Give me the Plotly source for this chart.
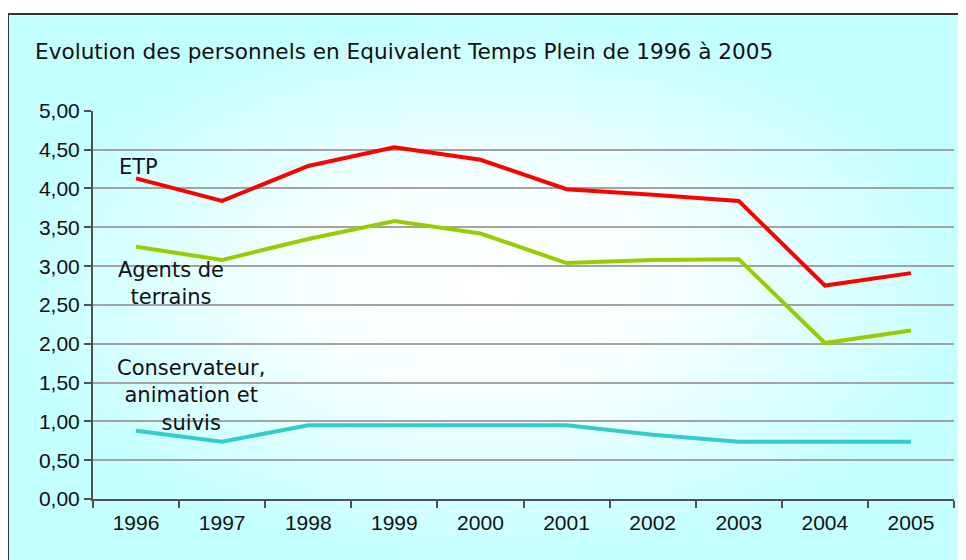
import plotly.graph_objects as go

years = ["1996", "1997", "1998", "1999", "2000", "2001", "2002", "2003", "2004", "2005"]
etp = [4.13, 3.84, 4.29, 4.53, 4.37, 3.99, 3.92, 3.84, 2.75, 2.91]
agents = [3.25, 3.08, 3.35, 3.58, 3.42, 3.04, 3.08, 3.09, 2.01, 2.17]
conservateur = [0.88, 0.74, 0.95, 0.95, 0.95, 0.95, 0.83, 0.74, 0.74, 0.74]
y_ticks = [0, 0.5, 1, 1.5, 2, 2.5, 3, 3.5, 4, 4.5, 5]
y_tick_labels = [f"{v:.2f}".replace(".", ",") for v in y_ticks]

W, H = 966, 560
NUM_FONT = "Liberation Sans, Arial, sans-serif"
TXT_FONT = "DejaVu Sans, Verdana, sans-serif"
EDGE = "#c4ffff"


# map screen pixels (as seen in the photographed page) to paper fractions
def px(x):
    return (x - 8) / W


def py(y):
    return (556 - y) / 538


fig = go.Figure()

# gradient background on a full-page hidden subplot
bx0 = px(8)
fig.add_trace(go.Scatter(
    x=[bx0, 1, 1, bx0, bx0], y=[0, 0, 1, 1, 0],
    xaxis="x", yaxis="y", mode="lines", line=dict(width=0),
    fill="toself",
    fillgradient=dict(type="radial",
                      colorscale=[[0, "#ffffff"], [0.4, "#f7ffff"], [1, EDGE]]),
    hoverinfo="skip", showlegend=False,
))

series = [
    ("ETP", etp, "#ff0000"),
    ("Agents de terrains", agents, "#99cc00"),
    ("Conservateur, animation et suivis", conservateur, "#33cccc"),
]
for name, vals, col in series:
    fig.add_trace(go.Scatter(
        x=years, y=vals, name=name, mode="lines",
        line=dict(color=col, width=4),
        xaxis="x2", yaxis="y2", showlegend=False,
    ))

fig.update_layout(
    width=W, height=H,
    margin=dict(l=0, r=0, t=0, b=0),
    paper_bgcolor="white",
    plot_bgcolor="rgba(0,0,0,0)",
    showlegend=False,
    font=dict(family=NUM_FONT, color="#111111", size=21),
    xaxis=dict(domain=[0, 1], range=[0, 1], visible=False, fixedrange=True),
    yaxis=dict(domain=[0, 1], range=[0, 1], visible=False, fixedrange=True),
    xaxis2=dict(
        domain=[px(93), px(954)], anchor="y2", type="category",
        categoryorder="array", categoryarray=years,
        range=[-0.5, 9.5],
        showline=True, linecolor="#505050", linewidth=2,
        ticks="outside", tickson="boundaries", ticklen=7, tickwidth=1.5, tickcolor="#505050",
        ticklabelstandoff=4,
        showgrid=False, zeroline=False,
        tickfont=dict(size=21, family=NUM_FONT, color="#111111"),
    ),
    yaxis2=dict(
        domain=[py(498), py(109)], anchor="x2",
        range=[0, 5],
        tickvals=y_ticks, ticktext=y_tick_labels,
        showline=True, linecolor="#505050", linewidth=2,
        ticks="outside", ticklen=7, tickwidth=1.5, tickcolor="#505050",
        showgrid=True, gridcolor="#a3a3a3", gridwidth=1.5,
        zeroline=False,
        tickfont=dict(size=21, family=NUM_FONT, color="#111111"),
    ),
    shapes=[
        # thin strips filling the bits of the frame outside the paper area
        dict(type="rect", xref="paper", yref="paper", x0=bx0, x1=1.02, y0=1.0, y1=py(12),
             line=dict(width=0), fillcolor=EDGE, layer="below"),
        dict(type="rect", xref="paper", yref="paper", x0=bx0, x1=1.02, y0=-0.05, y1=0.0,
             line=dict(width=0), fillcolor=EDGE, layer="below"),
        dict(type="rect", xref="paper", yref="paper",
             x0=bx0, x1=1.03, y0=-0.05, y1=py(12),
             line=dict(color="#333333", width=2), fillcolor="rgba(0,0,0,0)"),
    ],
    annotations=[
        dict(text="Evolution des personnels en Equivalent Temps Plein de 1996 à 2005",
             xref="paper", yref="paper", x=px(33), y=py(50),
             xanchor="left", yanchor="middle", showarrow=False,
             font=dict(size=21.6, family=TXT_FONT, color="#111111")),
        dict(text="ETP", xref="paper", yref="paper", x=px(138), y=py(165),
             xanchor="center", yanchor="middle", showarrow=False,
             font=dict(size=21, family=TXT_FONT, color="#111111")),
        dict(text="Agents de<br>terrains", xref="paper", yref="paper", x=px(171), y=py(282),
             xanchor="center", yanchor="middle", showarrow=False, align="center",
             font=dict(size=21, family=TXT_FONT, color="#111111")),
        dict(text="Conservateur,<br>animation et<br>suivis", xref="paper", yref="paper",
             x=px(191), y=py(394),
             xanchor="center", yanchor="middle", showarrow=False, align="center",
             font=dict(size=21, family=TXT_FONT, color="#111111")),
    ],
)

fig.write_html("out.html")
